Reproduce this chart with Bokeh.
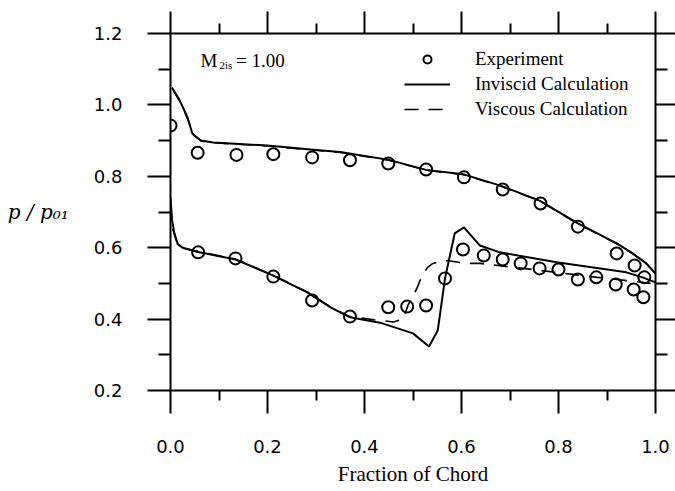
from bokeh.plotting import figure
from bokeh.models import (LinearAxis, FixedTicker, Range1d, Label, Legend,
                          LegendItem, PrintfTickFormatter)
from bokeh.embed import file_html
from bokeh.resources import INLINE

# ---------------- data ----------------
exp_upper_x = [0.0, 0.056, 0.136, 0.212, 0.292, 0.370, 0.449, 0.527, 0.605,
               0.685, 0.763, 0.840, 0.920, 0.957, 0.977]
exp_upper_y = [0.942, 0.866, 0.860, 0.862, 0.853, 0.845, 0.836, 0.819, 0.797,
               0.763, 0.724, 0.659, 0.584, 0.550, 0.517]

exp_lower_x = [0.057, 0.134, 0.212, 0.292, 0.370, 0.449, 0.488, 0.527, 0.566,
               0.603, 0.646, 0.685, 0.722, 0.761, 0.800, 0.840, 0.878, 0.918,
               0.955, 0.975]
exp_lower_y = [0.587, 0.570, 0.519, 0.452, 0.407, 0.433, 0.435, 0.438, 0.514,
               0.595, 0.578, 0.567, 0.556, 0.542, 0.539, 0.511, 0.517, 0.497,
               0.483, 0.461]

inv_upper_x = [0.003, 0.02, 0.035, 0.045, 0.062, 0.088, 0.15, 0.20, 0.30, 0.35,
               0.45, 0.527, 0.603, 0.68, 0.761, 0.84, 0.88, 0.92, 0.953, 0.981, 1.0]
inv_upper_y = [1.049, 1.01, 0.965, 0.92, 0.90, 0.895, 0.890, 0.886, 0.874, 0.868,
               0.846, 0.818, 0.806, 0.774, 0.732, 0.668, 0.640, 0.612, 0.584,
               0.556, 0.528]

inv_lower_x = [0.0, 0.003, 0.008, 0.015, 0.025, 0.057, 0.134, 0.212, 0.282,
               0.33, 0.37, 0.432, 0.50, 0.533, 0.551, 0.566, 0.586, 0.605,
               0.638, 0.679, 0.796, 0.94, 0.973, 1.0]
inv_lower_y = [0.74, 0.68, 0.64, 0.61, 0.60, 0.588, 0.567, 0.522, 0.475,
               0.433, 0.405, 0.390, 0.360, 0.323, 0.368, 0.514, 0.640, 0.657,
               0.606, 0.587, 0.559, 0.531, 0.517, 0.503]

visc_upper_x = [0.006, 0.022, 0.037, 0.048, 0.065, 0.09, 0.15, 0.20, 0.30, 0.35,
                0.45, 0.527, 0.603, 0.68, 0.761, 0.84, 0.88, 0.92, 0.953, 0.981, 1.0]
visc_upper_y = [1.040, 1.003, 0.955, 0.915, 0.898, 0.894, 0.889, 0.885, 0.873, 0.867,
                0.845, 0.817, 0.805, 0.773, 0.731, 0.667, 0.639, 0.611, 0.583,
                0.555, 0.527]

visc_lower_x = [0.0, 0.005, 0.012, 0.02, 0.03, 0.057, 0.134, 0.212, 0.282,
                0.33, 0.37, 0.42, 0.46, 0.48, 0.49, 0.508, 0.518, 0.53, 0.541,
                0.556, 0.572, 0.59, 0.607, 0.638, 0.70, 0.74, 0.80, 0.88,
                0.973, 1.0]
visc_lower_y = [0.72, 0.65, 0.62, 0.605, 0.598, 0.589, 0.568, 0.523, 0.476,
                0.434, 0.407, 0.398, 0.392, 0.400, 0.440, 0.486, 0.520, 0.545,
                0.556, 0.562, 0.564, 0.560, 0.556, 0.556, 0.546, 0.540, 0.530,
                0.517, 0.503, 0.498]

x_major = [0.0, 0.2, 0.4, 0.6, 0.8, 1.0]
x_minor = [0.1, 0.3, 0.5, 0.7, 0.9]
y_major = [0.2, 0.4, 0.6, 0.8, 1.0, 1.2]
y_minor = [0.3, 0.5, 0.7, 0.9, 1.1]

# ---------------- figure ----------------
p = figure(width=675, height=491, x_range=Range1d(0, 1.0),
           y_range=Range1d(0.2, 1.2), output_backend="svg",
           toolbar_location=None, min_border_left=170, min_border_right=20,
           min_border_top=33, min_border_bottom=101)
p.outline_line_color = None
p.xgrid.visible = False
p.ygrid.visible = False
p.background_fill_color = "white"
p.border_fill_color = "white"

xt = FixedTicker(ticks=x_major, minor_ticks=x_minor)
yt = FixedTicker(ticks=y_major, minor_ticks=y_minor)


def style(ax, major_out, minor_out):
    ax.axis_line_width = 2
    ax.axis_line_color = "black"
    ax.major_tick_line_width = 2
    ax.minor_tick_line_width = 2
    ax.major_tick_line_color = "black"
    ax.minor_tick_line_color = "black"
    ax.major_tick_in = 0
    ax.minor_tick_in = 0
    ax.major_tick_out = major_out
    ax.minor_tick_out = minor_out


serif = "Liberation Serif"

bottom = p.xaxis[0]
bottom.ticker = xt
bottom.formatter = PrintfTickFormatter(format="%.1f")
style(bottom, 23, 10)
bottom.major_label_text_font = "DejaVu Sans"
bottom.major_label_text_font_size = "18px"
bottom.major_label_text_color = "black"
bottom.major_label_standoff = 26
bottom.axis_label = "Fraction of Chord"
bottom.axis_label_text_font = serif
bottom.axis_label_text_font_style = "normal"
bottom.axis_label_text_font_size = "21px"
bottom.axis_label_text_color = "black"
bottom.axis_label_standoff = 6

left = p.yaxis[0]
left.ticker = yt
left.formatter = PrintfTickFormatter(format="%.1f")
style(left, 23, 12)
left.major_label_text_font = "DejaVu Sans"
left.major_label_text_font_size = "18px"
left.major_label_text_color = "black"
left.major_label_standoff = 25
left.axis_label = "p / p\u2080\u2081"
left.axis_label_text_font = "DejaVu Serif"
left.axis_label_text_font_style = "italic"
left.axis_label_text_font_size = "20px"
left.axis_label_text_color = "black"
left.axis_label_standoff = 22
if "axis_label_orientation" in left.properties():
    left.axis_label_orientation = "horizontal"

top = LinearAxis(ticker=xt)
style(top, 22, 10)
top.major_label_overrides = {t: "" for t in x_major}
top.major_label_text_font_size = "1px"
top.major_label_standoff = 0
p.add_layout(top, "above")

right = LinearAxis(ticker=yt)
style(right, 20, 12)
right.major_label_overrides = {t: "" for t in y_major}
right.major_label_text_font_size = "1px"
right.major_label_standoff = 0
p.add_layout(right, "right")

# ---------------- data glyphs ----------------
inv_u = p.line(inv_upper_x, inv_upper_y, line_color="black", line_width=2)
p.line(inv_lower_x, inv_lower_y, line_color="black", line_width=2)
visc_u = p.line(visc_upper_x, visc_upper_y, line_color="black", line_width=1.6,
                line_dash="14 10")
p.line(visc_lower_x, visc_lower_y, line_color="black", line_width=1.6,
       line_dash="14 10")
exp_u = p.scatter(exp_upper_x, exp_upper_y, marker="circle", size=12,
                  fill_color=None, line_color="black", line_width=2)
p.scatter(exp_lower_x, exp_lower_y, marker="circle", size=12,
          fill_color=None, line_color="black", line_width=2)

legend = Legend(items=[LegendItem(label="Experiment", renderers=[exp_u]),
                       LegendItem(label="Inviscid Calculation", renderers=[inv_u]),
                       LegendItem(label="Viscous Calculation", renderers=[visc_u])],
                location=(234, 270), border_line_color=None,
                background_fill_alpha=0, padding=0, margin=0, spacing=3,
                label_height=20, glyph_height=20, glyph_width=46,
                label_standoff=25, label_text_font=serif,
                label_text_font_size="19px", label_text_color="black")
p.add_layout(legend)

# ---------------- texts ----------------
p.add_layout(Label(x=0.062, y=1.125, text="M", text_font=serif,
                   text_font_size="19px", text_baseline="alphabetic",
                   text_color="black"))
p.add_layout(Label(x=0.101, y=1.113, text="2is", text_font=serif,
                   text_font_size="11px", text_baseline="alphabetic",
                   text_color="black"))
p.add_layout(Label(x=0.135, y=1.125, text="=  1.00", text_font=serif,
                   text_font_size="19px", text_baseline="alphabetic",
                   text_color="black"))

open("out.html", "w").write(file_html(p, INLINE))
